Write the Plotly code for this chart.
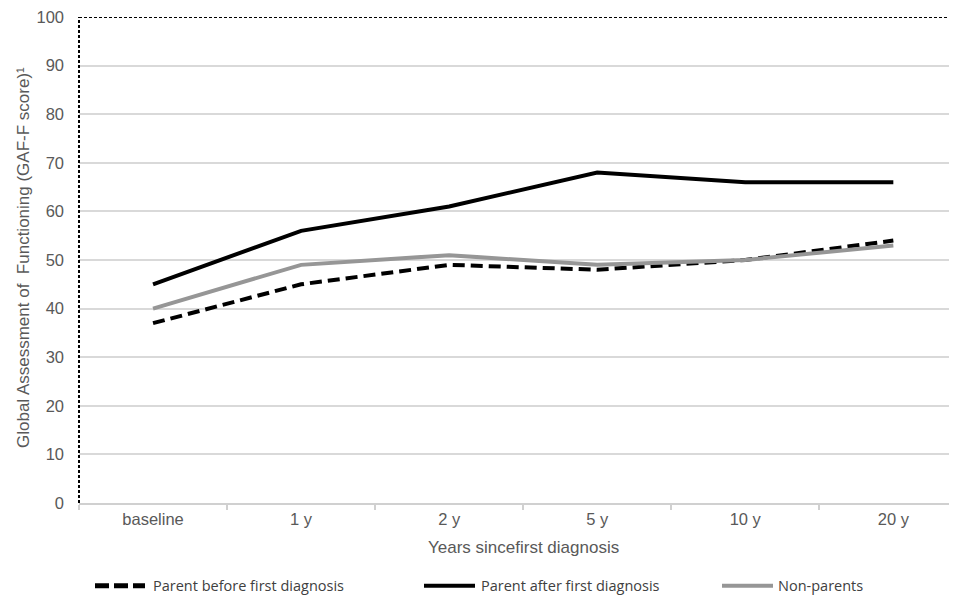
import plotly.graph_objects as go

categories = ["baseline", "1 y", "2 y", "5 y", "10 y", "20 y"]
parent_before = [37, 45, 49, 48, 50, 54]
parent_after = [45, 56, 61, 68, 66, 66]
non_parents = [40, 49, 51, 49, 50, 53]
series_names = ["Parent before first diagnosis", "Parent after first diagnosis", "Non-parents"]
y_ticks = [0, 10, 20, 30, 40, 50, 60, 70, 80, 90, 100]

OFF = 8  # page body margin
W, H = 957 - OFF, 596 - OFF
ML, MR, MT, MB = 79 - OFF, 0, 15 - OFF, 596 - 503
PW = W - ML - MR
PH = H - MT - MB

def px(x):
    return (x - OFF - ML) / PW

def py(y):
    return (H - MB - (y - OFF)) / PH

styles = [
    dict(color="black", width=4, dash="12px,6px"),
    dict(color="black", width=4, dash="solid"),
    dict(color="#969696", width=4, dash="solid"),
]

fig = go.Figure()
for name, vals, st in zip(series_names, [parent_before, parent_after, non_parents], styles):
    fig.add_trace(go.Scatter(x=categories, y=vals, mode="lines", name=name,
                             line=st, showlegend=False))

# dashed frame: left axis and top
fig.add_shape(type="line", xref="paper", yref="y", x0=0, x1=0, y0=0, y1=100,
              line=dict(color="black", width=2, dash="3px,2px"))
fig.add_shape(type="line", xref="paper", yref="y", x0=0, x1=1, y0=100, y1=100,
              line=dict(color="black", width=2, dash="3px,2px"))

# custom legend
legend_items = [(95, 145, 153), (424, 475, 481), (722, 773, 778)]
leg_y = 586
leg_styles = [
    dict(color="black", width=5, dash="14px,5px"),
    dict(color="black", width=4, dash="solid"),
    dict(color="#969696", width=4, dash="solid"),
]
for (x0, x1, tx), name, st in zip(legend_items, series_names, leg_styles):
    fig.add_shape(type="line", xref="paper", yref="paper", x0=px(x0), x1=px(x1),
                  y0=py(leg_y), y1=py(leg_y), line=st)
    fig.add_annotation(x=px(tx), y=py(leg_y), xref="paper", yref="paper",
                       text=name, showarrow=False, xanchor="left", yanchor="middle",
                       xshift=-2,
                       font=dict(family="Open Sans", size=14.5, color="#404040"))

# axis titles
fig.add_annotation(x=px(523), y=py(548), xref="paper", yref="paper",
                   text="Years sincefirst diagnosis", showarrow=False,
                   xanchor="center", yanchor="middle",
                   font=dict(size=17, color="#595959"))
fig.add_annotation(x=px(23), y=py(257), xref="paper", yref="paper",
                   text="Global Assessment of  Functioning (GAF-F score)¹", showarrow=False,
                   textangle=-90, xanchor="center", yanchor="middle",
                   font=dict(size=17, color="#595959"))

fig.update_layout(
    width=W, height=H,
    margin=dict(l=ML, r=MR, t=MT, b=MB),
    paper_bgcolor="white", plot_bgcolor="white",
    font=dict(family="Liberation Sans, Arial", size=16, color="#595959"),
    showlegend=False,
)
fig.update_xaxes(
    type="category", range=[-0.5, 5.43], tickson="boundaries",
    ticks="outside", ticklen=5, tickcolor="#d0d0d0", tickwidth=1.5,
    showgrid=False, showline=True, linecolor="#d0d0d0", linewidth=1.5,
    tickfont=dict(size=16.5, color="#595959"),
)
fig.update_yaxes(
    range=[0, 100], tickvals=y_ticks, showgrid=True, gridcolor="#d9d9d9", gridwidth=1.5,
    zeroline=False, showline=False, ticks="", ticklabelstandoff=14,
    ticklabeloverflow="allow",
    tickfont=dict(size=16.5, color="#595959"),
)

fig.write_html("out.html")
